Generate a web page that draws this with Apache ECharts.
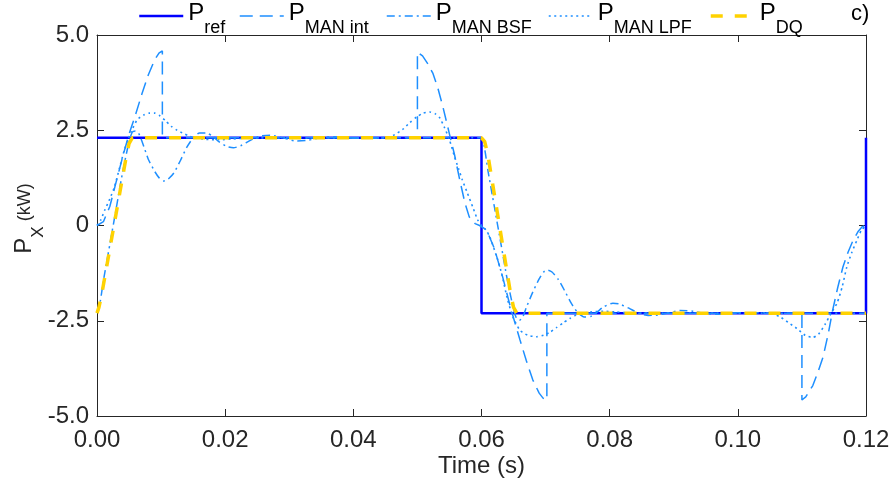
<!DOCTYPE html>
<html>
<head>
<meta charset="utf-8">
<script src="https://cdn.jsdelivr.net/npm/echarts@6/dist/echarts.min.js"></script>
<style>html,body{margin:0;padding:0;background:#fff}#c{width:891px;height:488px}</style>
</head>
<body>
<div id="c"></div>
<script>
// ---- data (time in s, power in kW) ----
var xTicks = [0, 0.02, 0.04, 0.06, 0.08, 0.10, 0.12];
var yTicks = [-5, -2.5, 0, 2.5, 5];
var seriesNames = ['ref', 'MAN int', 'MAN BSF', 'MAN LPF', 'DQ'];

var refData = [[0,2.3],[0.06,2.3],[0.06,-2.3],[0.12,-2.3],[0.12,2.3]];

var manIntData = [
  [0,0],[0.001,0.1],[0.002,0.5],[0.003,1.15],[0.004,1.8],[0.005,2.4],[0.006,2.9],[0.007,3.45],
  [0.008,3.95],[0.009,4.35],[0.0097,4.53],[0.0102,4.58],[0.0102,2.3],[0.05,2.3],[0.05,4.55],
  [0.0508,4.45],[0.0516,4.25],[0.0524,4.0],[0.0532,3.6],[0.054,3.1],[0.055,2.4],[0.0558,1.85],
  [0.0566,1.2],[0.0574,0.6],[0.0581,0.22],[0.059,0.05],[0.0597,0],[0.0608,-0.12],[0.062,-0.6],
  [0.0633,-1.35],[0.0646,-2.2],[0.066,-3.0],[0.067,-3.55],[0.068,-4.05],[0.069,-4.4],[0.0696,-4.53],
  [0.0702,-4.58],[0.0702,-2.3],[0.11,-2.3],[0.11,-4.58],[0.1106,-4.5],[0.1117,-4.2],[0.1125,-3.85],
  [0.1133,-3.45],[0.1141,-2.85],[0.1148,-2.22],[0.1156,-1.62],[0.1164,-1.09],[0.1172,-0.7],
  [0.118,-0.38],[0.1188,-0.15],[0.1194,-0.03],[0.12,0]
];

var bsfData = [
  [0,-2.3],[0.0005,-2.0],[0.001,-1.45],[0.002,-0.5],[0.003,0.45],[0.004,1.4],[0.005,2.2],[0.0055,2.45],
  [0.006,2.48],[0.0065,2.42],[0.007,2.22],[0.0075,1.98],[0.008,1.74],[0.009,1.42],[0.0097,1.25],
  [0.0104,1.17],[0.011,1.2],[0.012,1.38],[0.013,1.7],[0.014,2.05],[0.015,2.3],[0.016,2.43],
  [0.017,2.43],[0.018,2.35],[0.019,2.2],[0.0203,2.07],[0.0213,2.04],[0.0225,2.1],[0.024,2.24],
  [0.0255,2.35],[0.027,2.37],[0.029,2.3],[0.031,2.22],[0.033,2.24],[0.035,2.31],[0.037,2.33],
  [0.04,2.29],[0.043,2.29],[0.046,2.3],[0.06,2.3],
  [0.0605,2.0],[0.061,1.45],[0.062,0.5],[0.063,-0.45],[0.064,-1.4],[0.065,-2.2],[0.0655,-2.45],
  [0.066,-2.48],[0.0665,-2.38],[0.067,-2.15],[0.068,-1.75],[0.069,-1.4],[0.0697,-1.22],[0.0703,-1.17],
  [0.071,-1.22],[0.072,-1.42],[0.073,-1.72],[0.074,-2.04],[0.075,-2.28],[0.076,-2.4],[0.077,-2.39],
  [0.078,-2.28],[0.079,-2.14],[0.0805,-2.04],[0.0815,-2.06],[0.083,-2.17],[0.0845,-2.3],[0.086,-2.36],
  [0.0875,-2.35],[0.089,-2.3],[0.091,-2.23],[0.093,-2.25],[0.095,-2.31],[0.097,-2.33],[0.1,-2.29],
  [0.103,-2.29],[0.106,-2.3],[0.12,-2.3]
];

var lpfData = [
  [0,0],[0.0006,0.15],[0.0012,0.4],[0.002,0.7],[0.0027,1.0],[0.0035,1.5],[0.0043,2.0],[0.0053,2.45],
  [0.0063,2.78],[0.0073,2.9],[0.0082,2.95],[0.009,2.95],[0.0098,2.88],[0.0107,2.75],[0.0116,2.6],
  [0.0125,2.5],[0.0133,2.43],[0.0142,2.36],[0.015,2.31],[0.017,2.26],[0.019,2.25],[0.021,2.27],
  [0.024,2.3],[0.045,2.3],[0.0462,2.36],[0.0477,2.52],[0.0488,2.7],[0.0499,2.85],[0.0509,2.95],
  [0.0519,2.98],[0.0528,2.93],[0.0535,2.82],[0.0542,2.58],[0.055,2.25],[0.0558,1.8],[0.0564,1.5],
  [0.057,1.2],[0.0578,0.85],[0.0586,0.5],[0.0594,0.15],[0.06,0],[0.0607,-0.12],[0.0613,-0.3],
  [0.0624,-0.83],[0.0632,-1.3],[0.064,-1.9],[0.0649,-2.4],[0.066,-2.75],[0.0672,-2.88],[0.0686,-2.92],
  [0.0697,-2.88],[0.0707,-2.8],[0.0717,-2.68],[0.0727,-2.56],[0.0738,-2.44],[0.0748,-2.35],[0.077,-2.27],
  [0.079,-2.25],[0.081,-2.27],[0.084,-2.3],[0.105,-2.3],[0.1066,-2.4],[0.1079,-2.55],[0.1092,-2.7],
  [0.1105,-2.88],[0.1117,-2.94],[0.1126,-2.85],[0.1136,-2.6],[0.1145,-2.32],[0.1155,-2.03],
  [0.1163,-1.6],[0.117,-1.09],[0.1178,-0.7],[0.1186,-0.38],[0.1193,-0.12],[0.12,0]
];

var dqData = [
  [0,-2.3],[0.0003,-2.15],[0.0008,-1.75],[0.0045,1.75],[0.005,2.15],[0.0055,2.3],[0.06,2.3],
  [0.0605,2.2],[0.061,1.85],[0.0645,-1.75],[0.065,-2.15],[0.0655,-2.3],[0.12,-2.3]
];

// ---- styling ----
var FONT = '"Liberation Sans", Arial, Helvetica, sans-serif';
var AX = '#262626';
var blue = '#0000FF', lblue = '#1E8FFF', gold = '#FFD200';

var richLeg = {
  p: {fontSize: 24, lineHeight: 30, padding: [6, 0, 0, 0], verticalAlign: 'top', fontFamily: FONT, color: '#000'},
  s: {fontSize: 18, padding: [24, 0, 0, 0], verticalAlign: 'bottom', fontFamily: FONT, color: '#000'}
};
function legendFor(name, left, w) {
  return {
    data: [name], left: left, top: -5, padding: 0, itemWidth: 44, itemHeight: 14, itemGap: 0,
    itemStyle: {opacity: 0},
    lineStyle: {width: w},
    textStyle: {rich: richLeg, fontFamily: FONT},
    formatter: function (n) { return '{p|P}{s|' + n + '}'; },
    selectedMode: false
  };
}

var chart = echarts.init(document.getElementById('c'), null, {renderer: 'canvas'});
var fmtX = function (v) { return v.toFixed(2); };
var fmtY = function (v) { return v === 0 ? '0' : v.toFixed(1); };

chart.setOption({
  animation: false,
  backgroundColor: '#fff',
  grid: {left: 97, right: 25, top: 35, bottom: 72, containLabel: false, outerBoundsMode: 'none'},
  legend: [
    legendFor(seriesNames[0], 138, 2.5),
    legendFor(seriesNames[1], 239, 1.5),
    legendFor(seriesNames[2], 386, 1.5),
    legendFor(seriesNames[3], 548, 1.5),
    legendFor(seriesNames[4], 709, 3.5)
  ],
  graphic: [{type: 'text', left: 851, top: 3, style: {text: 'c)', font: '22px ' + FONT, fill: '#000'}}],
  xAxis: [{
    type: 'value', min: xTicks[0], max: xTicks[xTicks.length - 1], interval: xTicks[1] - xTicks[0],
    axisLine: {onZero: false, lineStyle: {color: AX, width: 1}},
    axisTick: {inside: true, length: 7, lineStyle: {color: AX}},
    axisLabel: {formatter: fmtX, fontSize: 24, color: AX, fontFamily: FONT, margin: 12},
    splitLine: {show: false},
    name: 'Time (s)', nameLocation: 'middle', nameGap: 38, nameMoveOverlap: false,
    nameTextStyle: {fontSize: 24, color: AX, fontFamily: FONT}
  }, {
    type: 'value', position: 'top', min: xTicks[0], max: xTicks[xTicks.length - 1], interval: xTicks[1] - xTicks[0],
    axisLine: {onZero: false, lineStyle: {color: AX, width: 1}},
    axisTick: {inside: true, length: 7, lineStyle: {color: AX}},
    axisLabel: {show: false}, splitLine: {show: false}
  }],
  yAxis: [{
    type: 'value', min: yTicks[0], max: yTicks[yTicks.length - 1], interval: 2.5,
    axisLine: {show: true, onZero: false, lineStyle: {color: AX, width: 1}},
    axisTick: {show: true, inside: true, length: 7, lineStyle: {color: AX}},
    axisLabel: {formatter: fmtY, fontSize: 24, color: AX, fontFamily: FONT, margin: 8},
    splitLine: {show: false},
    name: '{p|P}{s|X}{q| (kW)}', nameLocation: 'middle', nameRotate: 90, nameGap: 50, nameMoveOverlap: false,
    nameTextStyle: {rich: {
      p: {fontSize: 24, lineHeight: 30, padding: [6, 0, 0, 14], verticalAlign: 'top', fontFamily: FONT, color: AX},
      s: {fontSize: 17, padding: [24, 0, 0, 0], verticalAlign: 'bottom', fontFamily: FONT, color: AX},
      q: {fontSize: 18, lineHeight: 30, padding: [10, 0, 0, 0], verticalAlign: 'top', fontFamily: FONT, color: AX}
    }}
  }, {
    type: 'value', position: 'right', min: yTicks[0], max: yTicks[yTicks.length - 1], interval: 2.5,
    axisLine: {show: true, onZero: false, lineStyle: {color: AX, width: 1}},
    axisTick: {show: true, inside: true, length: 7, lineStyle: {color: AX}},
    axisLabel: {show: false}, splitLine: {show: false}
  }],
  series: [
    {name: seriesNames[0], type: 'line', data: refData, symbol: 'none', clip: false,
     lineStyle: {color: blue, width: 2.5}, itemStyle: {color: blue}, z: 2},
    {name: seriesNames[1], type: 'line', data: manIntData, symbol: 'none',
     lineStyle: {color: lblue, width: 1.5, type: [13, 7]}, itemStyle: {color: lblue}, z: 3},
    {name: seriesNames[2], type: 'line', data: bsfData, symbol: 'none', smooth: 0.2,
     lineStyle: {color: lblue, width: 1.5, type: [8, 4, 2, 4]}, itemStyle: {color: lblue}, z: 3},
    {name: seriesNames[3], type: 'line', data: lpfData, symbol: 'none', smooth: 0.2,
     lineStyle: {color: lblue, width: 1.6, type: [2, 3.5]}, itemStyle: {color: lblue}, z: 3},
    {name: seriesNames[4], type: 'line', data: dqData, symbol: 'none',
     lineStyle: {color: gold, width: 3.5, type: [12, 12]}, itemStyle: {color: gold}, z: 4}
  ]
});
</script>
</body>
</html>
